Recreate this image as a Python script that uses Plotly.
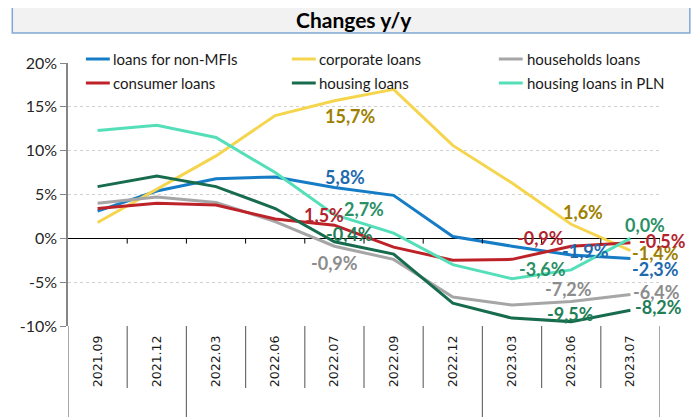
import plotly.graph_objects as go

categories = ["2021.09", "2021.12", "2022.03", "2022.06", "2022.07",
              "2022.09", "2022.12", "2023.03", "2023.06", "2023.07"]

loans_non_mfi = [3.1, 5.4, 6.8, 7.0, 5.8, 4.9, 0.2, -0.9, -1.9, -2.3]
corporate_loans = [1.8, 5.6, 9.4, 14.0, 15.7, 17.0, 10.6, 6.3, 1.6, -1.4]
households_loans = [4.0, 4.7, 4.1, 1.9, -0.9, -2.4, -6.7, -7.6, -7.2, -6.4]
consumer_loans = [3.4, 4.0, 3.8, 2.2, 1.5, -1.0, -2.5, -2.4, -0.9, -0.5]
housing_loans = [5.9, 7.1, 5.9, 3.4, -0.4, -1.8, -7.4, -9.1, -9.5, -8.2]
housing_loans_pln = [12.3, 12.9, 11.5, 7.5, 2.7, 0.6, -3.0, -4.6, -3.6, 0.0]

y_ticks = [-10, -5, 0, 5, 10, 15, 20]

series = [
    ("loans for non-MFIs", loans_non_mfi, "#157CC5", "#1E6AAE"),
    ("corporate loans", corporate_loans, "#F6D54E", "#9E8000"),
    ("households loans", households_loans, "#A6A6A6", "#8C8C8C"),
    ("consumer loans", consumer_loans, "#BE2229", "#B3242E"),
    ("housing loans", housing_loans, "#176C4D", "#1F8058"),
    ("housing loans in PLN", housing_loans_pln, "#55DFB9", "#2A9066"),
]

# data labels: (series index, category index, xshift, yshift, anchor)
label_specs = [
    (0, 4, 11, 10, "center"), (0, 8, 14, 4, "center"), (0, 9, 0, -10, "left"),
    (1, 4, 16, -15, "center"), (1, 8, 12, 12, "center"), (1, 9, 0, -2, "left"),
    (2, 4, 0, -17, "center"), (2, 8, -3, 12, "center"), (2, 9, 1, 2, "left"),
    (3, 4, -10, 10, "center"), (3, 8, -31, 8, "center"), (3, 9, 7, 2, "left"),
    (4, 4, 15, 8, "center"), (4, 8, -1, 8, "center"), (4, 9, 3, 3, "left"),
    (5, 4, 30, 6, "center"), (5, 8, -29, 1, "center"), (5, 9, 15, 13, "center"),
]

fig = go.Figure()
for name, vals, col, _ in series:
    fig.add_trace(go.Scatter(x=categories, y=vals, name=name, mode="lines",
                             line=dict(color=col, width=3), showlegend=False,
                             hoverinfo="skip"))

# the page adds an 8px body margin, so the figure is drawn 8px smaller
OFF = 8
W, H = 699 - OFF, 417 - OFF
L, R, T, B = 65, 660, 63, 326   # plot area in reference page pixels


def px(x):
    return (x - L) / (R - L)


def py(y):
    return (B - y) / (B - T)


annotations = []
for si, ci, xs, ys, anc in label_specs:
    name, vals, col, lcol = series[si]
    v = vals[ci]
    txt = "<b>" + f"{v:.1f}%".replace(".", ",") + "</b>"
    annotations.append(dict(x=ci, y=v, xref="x", yref="y", text=txt,
                            showarrow=False, xanchor=anc, yanchor="middle",
                            xshift=xs, yshift=ys,
                            font=dict(family="Lato", size=18, color=lcol)))

# title
annotations.append(dict(x=px(352), y=py(19.5), xref="paper", yref="paper",
                        text="<b>Changes y/y</b>", showarrow=False,
                        xanchor="center", yanchor="middle",
                        font=dict(family="Lato", size=21, color="#000000")))

shapes = []
shapes.append(dict(type="rect", xref="paper", yref="paper",
                   x0=px(9), x1=px(690), y0=py(33), y1=py(6),
                   fillcolor="#F2F2F2", line=dict(color="#7FA9D6", width=1.5),
                   layer="below"))

# manual legend
leg_cols = [(83, 108), (290, 315), (498, 524)]
leg_rows = [59, 83]
for i, (name, vals, col, _) in enumerate(series):
    r, c = divmod(i, 3)
    x0, xt = leg_cols[c]
    yy = leg_rows[r]
    shapes.append(dict(type="line", xref="paper", yref="paper",
                       x0=px(x0), x1=px(x0 + 24), y0=py(yy), y1=py(yy),
                       line=dict(color=col, width=3)))
    annotations.append(dict(x=px(xt), y=py(yy), xref="paper", yref="paper",
                            text=name, showarrow=False, xanchor="left",
                            yanchor="middle",
                            font=dict(family="Lato", size=15, color="#1A1A1A")))

# category separators below plot and tick marks on zero line
long_sep = {-0.5, 1.5, 6.5, 9.5}
for k in range(11):
    b = k - 0.5
    bottom = 417 if b in long_sep else 388
    shapes.append(dict(type="line", xref="x", yref="paper",
                       x0=b, x1=b, y0=0, y1=py(bottom),
                       line=dict(color="#6E6E6E", width=1.2)))
    if k > 0:
        shapes.append(dict(type="line", xref="x", yref="y",
                           x0=b, x1=b, y0=0, y1=-0.6,
                           line=dict(color="#000000", width=1)))

fig.update_layout(
    width=W, height=H,
    margin=dict(l=L - OFF, r=699 - R, t=T - OFF, b=417 - B),
    paper_bgcolor="white", plot_bgcolor="white",
    annotations=annotations, shapes=shapes,
    xaxis=dict(type="category", categoryorder="array", categoryarray=categories,
               range=[-0.5, 9.5], tickangle=-90, ticks="", showline=False,
               showgrid=False, zeroline=False, ticklabelstandoff=6,
               tickfont=dict(family="DejaVu Sans", size=12.5, color="#1A1A1A")),
    yaxis=dict(range=[-10, 20], tickvals=y_ticks,
               ticktext=[f"{v}%" for v in y_ticks],
               showgrid=True, gridcolor="#D0D0D0", griddash="dot", gridwidth=1,
               zeroline=True, zerolinecolor="#000000", zerolinewidth=1,
               showline=True, linecolor="#868686", linewidth=1.5,
               ticks="outside", ticklen=6, tickcolor="#868686",
               tickfont=dict(family="Lato", size=16, color="#262626")),
)

fig.write_html("out.html")
